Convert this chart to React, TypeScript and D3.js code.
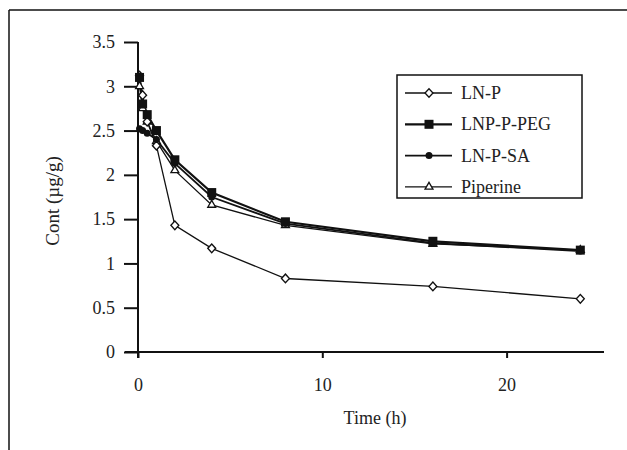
import React, { useRef, useEffect } from "react";
import * as d3 from "d3";

const times = [0.083, 0.25, 0.5, 1, 2, 4, 8, 16, 24];
const lnP = [3.12, 2.9, 2.6, 2.33, 1.43, 1.17, 0.83, 0.74, 0.6];
const lnpPeg = [3.1, 2.8, 2.68, 2.5, 2.17, 1.8, 1.47, 1.25, 1.15];
const lnPSa = [2.52, 2.5, 2.47, 2.4, 2.13, 1.75, 1.45, 1.23, 1.14];
const piperine = [3.0, 2.75, 2.6, 2.38, 2.05, 1.66, 1.43, 1.22, 1.15];
const seriesNames = ["LN-P", "LNP-P-PEG", "LN-P-SA", "Piperine"];
const markers = ["diamond", "square", "circle", "triangle"];
const yTicks = [0, 0.5, 1, 1.5, 2, 2.5, 3, 3.5];
const xTicks = [0, 10, 20];

function drawMarker(g: any, type: string, x: number, y: number) {
  if (type === "diamond") {
    g.append("path")
      .attr("d", d3.symbol(d3.symbolDiamond2, 40)())
      .attr("transform", `translate(${x},${y}) scale(1,1.1)`)
      .attr("fill", "white").attr("stroke", "#111").attr("stroke-width", 1.3);
  } else if (type === "square") {
    g.append("rect").attr("x", x - 4.5).attr("y", y - 4.5).attr("width", 9).attr("height", 9)
      .attr("fill", "#111");
  } else if (type === "circle") {
    g.append("circle").attr("cx", x).attr("cy", y).attr("r", 3.5).attr("fill", "#111");
  } else {
    g.append("path")
      .attr("d", d3.symbol(d3.symbolTriangle2, 45)())
      .attr("transform", `translate(${x},${y})`)
      .attr("fill", "white").attr("stroke", "#111").attr("stroke-width", 1.3);
  }
}

function Chart() {
  const svgRef = useRef<SVGSVGElement>(null);

  useEffect(() => {
    const svg = d3.select(svgRef.current);
    svg.selectAll("*").remove();

    const font = "'Liberation Serif', 'Times New Roman', serif";

    // frame lines of the figure
    svg.append("line").attr("x1", 9).attr("x2", 627).attr("y1", 10).attr("y2", 10)
      .attr("stroke", "#111").attr("stroke-width", 1.5);
    svg.append("line").attr("x1", 9).attr("x2", 9).attr("y1", 10).attr("y2", 450)
      .attr("stroke", "#111").attr("stroke-width", 1.5);

    const xScale = d3.scaleLinear().domain([0, 10]).range([138, 322.3]);
    const yScale = d3.scaleLinear().domain([0, 3.5]).range([352, 42]);

    const xAxis = d3.axisBottom(xScale).tickValues(xTicks).tickSize(6).tickPadding(20);
    const yAxis = d3.axisLeft(yScale).tickValues(yTicks)
      .tickFormat(d => String(d)).tickSize(14).tickPadding(9);

    const gx = svg.append("g").attr("transform", `translate(0,${yScale(0)})`).call(xAxis);
    gx.select(".domain").remove();
    gx.append("line").attr("x1", 125).attr("x2", 604).attr("y1", 0).attr("y2", 0)
      .attr("stroke", "#111").attr("stroke-width", 2);
    gx.selectAll(".tick line").attr("stroke", "#111").attr("stroke-width", 2);

    const gy = svg.append("g").attr("transform", `translate(${xScale(0)},0)`).call(yAxis);
    gy.select(".domain").remove();
    gy.append("line").attr("x1", 0).attr("x2", 0).attr("y1", yScale(3.5)).attr("y2", yScale(0) + 6)
      .attr("stroke", "#111").attr("stroke-width", 2);
    gy.selectAll(".tick line").attr("stroke", "#111").attr("stroke-width", 2);

    svg.selectAll(".tick text").attr("font-family", font).attr("font-size", 18).attr("fill", "#222");

    svg.append("text").attr("x", 375).attr("y", 424).attr("text-anchor", "middle")
      .attr("font-family", font).attr("font-size", 18).attr("fill", "#222").text("Time (h)");
    svg.append("text").attr("transform", `translate(59,201) rotate(-90)`)
      .attr("text-anchor", "middle").attr("font-family", font).attr("font-size", 19)
      .attr("fill", "#222").text("Cont (µg/g)");

    const allSeries = [lnP, lnpPeg, lnPSa, piperine];
    const widths = [1.3, 2.2, 1.8, 1.3];
    const line = d3.line<number>().x((d, i) => xScale(times[i])).y(d => yScale(d));

    allSeries.forEach((vals, k) => {
      svg.append("path").attr("d", line(vals)).attr("fill", "none")
        .attr("stroke", "#111").attr("stroke-width", widths[k]);
    });
    [3, 0, 2, 1].forEach(k => {
      const g = svg.append("g");
      allSeries[k].forEach((v, i) => drawMarker(g, markers[k], xScale(times[i]), yScale(v)));
    });

    // legend
    const lg = svg.append("g");
    lg.append("rect").attr("x", 397).attr("y", 75).attr("width", 185).attr("height", 123)
      .attr("fill", "white").attr("stroke", "#111").attr("stroke-width", 1.5);
    seriesNames.forEach((name, k) => {
      const y = 93 + k * 31.3;
      lg.append("line").attr("x1", 405).attr("x2", 452).attr("y1", y).attr("y2", y)
        .attr("stroke", "#111").attr("stroke-width", widths[k]);
      drawMarker(lg, markers[k], 429, y);
      lg.append("text").attr("x", 461).attr("y", y + 6).attr("font-family", font)
        .attr("font-size", 18).attr("fill", "#222").text(name);
    });
  }, []);

  return <svg ref={svgRef} width={627} height={450} style={{ display: "block" }}></svg>;
}

export default function App() {
  return (
    <div style={{ position: "absolute", left: 0, top: 0, width: 627, height: 450, background: "white" }}>
      <Chart />
    </div>
  );
}
